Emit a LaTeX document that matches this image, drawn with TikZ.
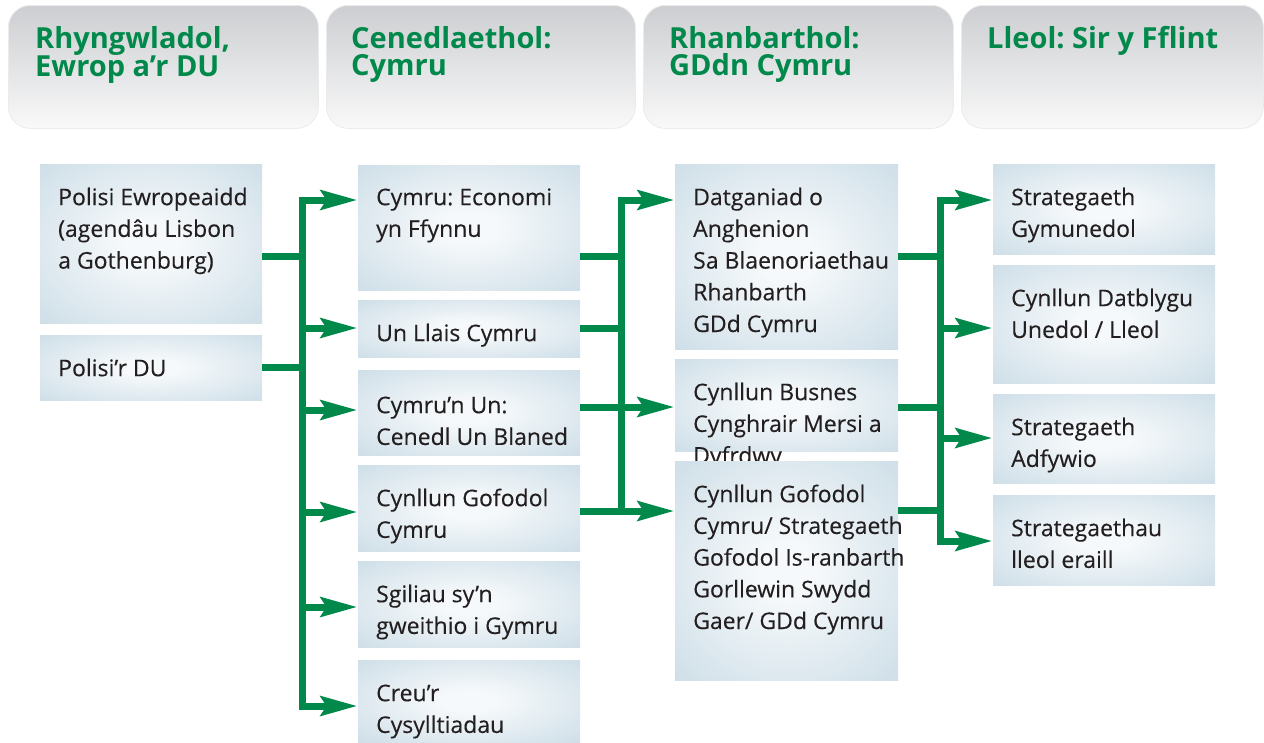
\documentclass[tikz,border=0pt]{standalone}
\usepackage{fontspec}
\setmainfont{Open Sans}
\newfontfamily\bodyfont[FakeBold=0.25]{Open Sans}
\usetikzlibrary{arrows.meta,calc}
\definecolor{wgreen}{HTML}{00894B}
\definecolor{boxblue}{HTML}{C3D7E2}
\definecolor{boxwhite}{HTML}{F6F9FB}
\definecolor{txt}{HTML}{231F20}
\definecolor{htop}{HTML}{CCCED1}
\definecolor{hbot}{HTML}{F9F9F9}
\pgfdeclareradialshading{softradial}{\pgfpoint{0bp}{0bp}}{color(0bp)=(boxwhite); color(6bp)=(boxwhite); color(44bp)=(boxblue); color(80bp)=(boxblue)}
\newcommand\bstrut{\rule{0pt}{23pt}}
\newcommand\hstrut{\rule{0pt}{29pt}}
\frenchspacing
\tikzset{
  hbox/.style={rectangle, rounded corners=22pt, top color=htop, bottom color=hbot, draw=black!8, line width=0.8pt, inner sep=0pt, anchor=north west},
  htext/.style={anchor=north west, align=left, inner sep=0pt, text=wgreen, font=\fontsize{29}{27}\selectfont\bfseries\frenchspacing},
  bx/.style={rectangle, shading=softradial, inner sep=0pt, outer sep=0pt, anchor=north west, minimum width=222pt},
  bt/.style={anchor=north west, align=left, inner sep=0pt, text=txt, font=\bodyfont\fontsize{23}{31.7}\selectfont\frenchspacing},
  ln/.style={draw=wgreen, line width=7pt},
  arr/.style={draw=wgreen, line width=7pt, -{Stealth[length=37pt,width=21pt,inset=7pt,line width=0pt]}, shorten >=1.5pt}
}
\begin{document}
\begin{tikzpicture}[x=1pt,y=-1pt]
\fill[white] (0,0) rectangle (1264,742);
\useasboundingbox (0,0) rectangle (1264,742);
% headers
\node[hbox, minimum width=310pt, minimum height=123pt] (h1) at (8,5) {};
\node[hbox, minimum width=309pt, minimum height=123pt] (h2) at (326,5) {};
\node[hbox, minimum width=310pt, minimum height=123pt] (h3) at (643,5) {};
\node[hbox, minimum width=302pt, minimum height=123pt] (h4) at (961,5) {};
\node[htext] (h1t) at (35,19) {\hstrut Rhyngwladol,\\Ewrop a’r DU};
\node[htext] (h2t) at (351,19) {\hstrut Cenedlaethol:\\Cymru};
\node[htext] (h3t) at (669,19) {\hstrut Rhanbarthol:\\GDdn Cymru};
\node[htext] (h4t) at (987,19) {\hstrut Lleol: Sir y Fflint};
% column 1
\node[bx, minimum height=159pt] (p1) at (40,164) {};
\node[bt] (p1t) at ([shift={(18pt,-18pt)}]p1.north west) {\bstrut Polisi Ewropeaidd\\(agendâu Lisbon\\a Gothenburg)};
\node[bx, minimum height=65pt] (p2) at (40,335) {};
\node[bt] (p2t) at ([shift={(18pt,-18pt)}]p2.north west) {\bstrut Polisi’r DU};
% column 2
\node[bx, minimum height=125pt] (n1) at (358,165) {};
\node[bt] (n1t) at ([shift={(18pt,-17pt)}]n1.north west) {\bstrut Cymru: Economi\\yn Ffynnu};
\node[bx, minimum height=57pt] (n2) at (358,300) {};
\node[bt] (n2t) at ([shift={(18pt,-18pt)}]n2.north west) {\bstrut Un Llais Cymru};
\node[bx, minimum height=85pt] (n3) at (358,370) {};
\node[bt] (n3t) at ([shift={(18pt,-20pt)}]n3.north west) {\bstrut Cymru’n Un:\\Cenedl Un Blaned};
\node[bx, minimum height=86pt] (n4) at (358,465) {};
\node[bt] (n4t) at ([shift={(18pt,-18pt)}]n4.north west) {\bstrut Cynllun Gofodol\\Cymru};
\node[bx, minimum height=86pt] (n5) at (358,561) {};
\node[bt] (n5t) at ([shift={(18pt,-18pt)}]n5.north west) {\bstrut Sgiliau sy’n\\gweithio i Gymru};
\node[bx, minimum height=82pt] (n6) at (358,660) {};
\node[bt] (n6t) at ([shift={(18pt,-18pt)}]n6.north west) {\bstrut Creu’r\\Cysylltiadau};
% column 3
\node[bx, minimum width=223pt, minimum height=185pt] (r1) at (675,164) {};
\node[bt] (r1t) at ([shift={(18pt,-18pt)}]r1.north west) {\bstrut Datganiad o\\Anghenion\\Sa Blaenoriaethau\\Rhanbarth\\GDd Cymru};
\node[bx, minimum width=223pt, minimum height=92pt] (r2) at (675,359) {};
\node[bt] (r2t) at ([shift={(18pt,-18pt)}]r2.north west) {\bstrut Cynllun Busnes\\Cynghrair Mersi a\\Dyfrdwy};
\node[bx, minimum width=223pt, minimum height=219pt] (r3) at (675,461) {};
\node[bt] (r3t) at ([shift={(18pt,-18pt)}]r3.north west) {\bstrut Cynllun Gofodol\\Cymru/ Strategaeth\\Gofodol Is-ranbarth\\Gorllewin Swydd\\Gaer/ GDd Cymru};
% column 4
\node[bx, minimum height=90pt] (l1) at (993,164) {};
\node[bt] (l1t) at ([shift={(18pt,-18pt)}]l1.north west) {\bstrut Strategaeth\\Gymunedol};
\node[bx, minimum height=118pt] (l2) at (993,265) {};
\node[bt] (l2t) at ([shift={(18pt,-18pt)}]l2.north west) {\bstrut Cynllun Datblygu\\Unedol / Lleol};
\node[bx, minimum height=89pt] (l3) at (993,394) {};
\node[bt] (l3t) at ([shift={(18pt,-18pt)}]l3.north west) {\bstrut Strategaeth\\Adfywio};
\node[bx, minimum height=90pt] (l4) at (993,495) {};
\node[bt] (l4t) at ([shift={(18pt,-18pt)}]l4.north west) {\bstrut Strategaethau\\lleol eraill};
% bus 1
\coordinate (b1) at (302,256);
\draw[ln] (p1.east |- 0,256) -- (b1);
\draw[ln] (p2.east |- 0,367) -- (b1 |- 0,367);
\draw[arr] (b1) |- (n1.west |- 0,200);
\draw[arr] (b1) |- (n6.west |- 0,706);
\draw[arr] (b1 |- 0,328) -- (n2.west |- 0,328);
\draw[arr] (b1 |- 0,410) -- (n3.west |- 0,410);
\draw[arr] (b1 |- 0,512) -- (n4.west |- 0,512);
\draw[arr] (b1 |- 0,607) -- (n5.west |- 0,607);
% bus 2
\coordinate (b2) at (621,256);
\draw[ln] (n1.east |- 0,256) -- (b2);
\draw[ln] (n2.east |- 0,328) -- (b2 |- 0,328);
\draw[arr] (b2) |- (r1.west |- 0,200);
\draw[ln] (b2) -- (b2 |- 0,511);
\draw[arr] (n3.east |- 0,407) -- (r2.west |- 0,407);
\draw[arr] (n4.east |- 0,511) -- (r3.west |- 0,511);
% bus 3
\coordinate (b3) at (940,256);
\draw[ln] (r1.east |- 0,256) -- (b3);
\draw[ln] (r2.east |- 0,407) -- (b3 |- 0,407);
\draw[ln] (r3.east |- 0,510) -- (b3 |- 0,510);
\draw[arr] (b3) |- (l1.west |- 0,200);
\draw[arr] (b3) |- (l4.west |- 0,541);
\draw[arr] (b3 |- 0,328) -- (l2.west |- 0,328);
\draw[arr] (b3 |- 0,438) -- (l3.west |- 0,438);
\end{tikzpicture}
\end{document}
